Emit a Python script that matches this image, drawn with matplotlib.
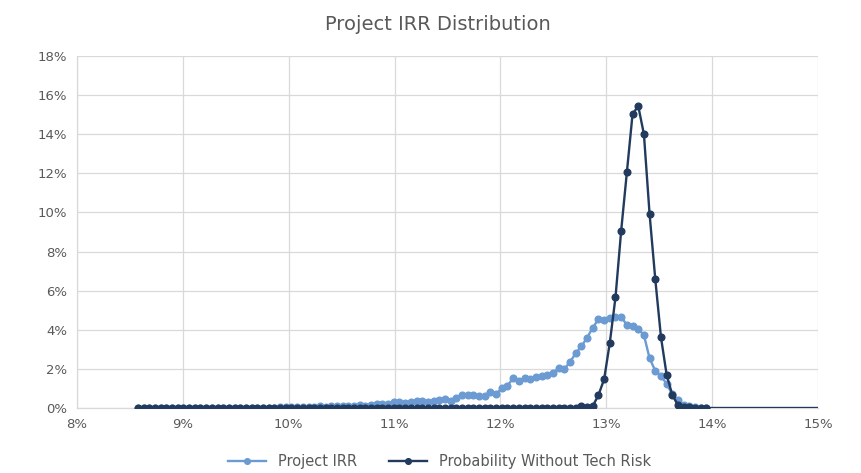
import numpy as np
import matplotlib
matplotlib.use("Agg")
import matplotlib.pyplot as plt
from matplotlib.ticker import FuncFormatter

# bins of the IRR histogram (percent): first bin centre, bin width, number of bins
bin_start = 8.576
bin_width = 0.0537
n_bins = 101
irr = bin_start + bin_width * np.arange(n_bins)

# probability per bin (percent)
project_irr = [
    0.00, 0.00, 0.00, 0.00, 0.00, 0.00, 0.00, 0.00, 0.00, 0.00,
    0.01, 0.01, 0.01, 0.01, 0.01, 0.01, 0.01, 0.01, 0.01, 0.01,
    0.02, 0.02, 0.02, 0.02, 0.02, 0.03, 0.04, 0.03, 0.05, 0.04,
    0.05, 0.06, 0.08, 0.07, 0.10, 0.08, 0.10, 0.12, 0.10, 0.14,
    0.12, 0.15, 0.18, 0.20, 0.22, 0.29, 0.29, 0.28, 0.32, 0.35,
    0.37, 0.30, 0.38, 0.40, 0.44, 0.35, 0.50, 0.66, 0.66, 0.66,
    0.60, 0.60, 0.80, 0.72, 1.00, 1.15, 1.52, 1.38, 1.52, 1.50,
    1.60, 1.62, 1.68, 1.80, 2.03, 2.00, 2.35, 2.80, 3.15, 3.60,
    4.10, 4.55, 4.50, 4.59, 4.67, 4.67, 4.24, 4.21, 4.04, 3.73,
    2.54, 1.90, 1.64, 1.23, 0.70, 0.40, 0.15, 0.08, 0.03, 0.01,
    0.00,
]
no_tech_risk = [
    0.00, 0.00, 0.00, 0.00, 0.00, 0.00, 0.00, 0.00, 0.00, 0.00,
    0.00, 0.00, 0.00, 0.00, 0.00, 0.00, 0.00, 0.00, 0.00, 0.00,
    0.00, 0.00, 0.00, 0.00, 0.00, 0.00, 0.00, 0.00, 0.00, 0.00,
    0.00, 0.00, 0.00, 0.00, 0.00, 0.00, 0.00, 0.00, 0.00, 0.00,
    0.00, 0.00, 0.00, 0.00, 0.00, 0.00, 0.00, 0.00, 0.00, 0.00,
    0.00, 0.00, 0.00, 0.00, 0.00, 0.00, 0.00, 0.00, 0.00, 0.00,
    0.00, 0.00, 0.00, 0.00, 0.00, 0.00, 0.00, 0.00, 0.00, 0.00,
    0.00, 0.00, 0.00, 0.00, 0.00, 0.00, 0.00, 0.01, 0.10, 0.04,
    0.10, 0.66, 1.47, 3.34, 5.66, 9.07, 12.05, 15.03, 15.44, 14.00,
    9.90, 6.58, 3.62, 1.69, 0.66, 0.15, 0.07, 0.03, 0.00, 0.00,
    0.00,
]

x_ticks = [8, 9, 10, 11, 12, 13, 14, 15]
y_ticks = [0, 2, 4, 6, 8, 10, 12, 14, 16, 18]

light = "#6b9bd2"
dark = "#223a5e"
grey = "#595959"

plt.rcParams['font.family'] = ['DejaVu Sans']

fig = plt.figure(figsize=(8.62, 4.73), dpi=100)
ax = fig.add_axes([0.0893, 0.1374, 0.8597, 0.7442])

ax.plot(irr, project_irr, color=light, lw=1.7, marker='o', ms=4.8,
        label='Project IRR', zorder=3)
ax.plot(irr, no_tech_risk, color=dark, lw=1.7, marker='o', ms=4.8,
        label='Probability Without Tech Risk', zorder=4)
# the series line carries on flat to the end of the axis
ax.plot([irr[-1], x_ticks[-1]], [no_tech_risk[-1], no_tech_risk[-1]],
        color=dark, lw=1.7, zorder=4)

ax.set_xlim(x_ticks[0], x_ticks[-1])
ax.set_ylim(y_ticks[0], y_ticks[-1])
ax.set_xticks(x_ticks)
ax.set_yticks(y_ticks)
pct = FuncFormatter(lambda v, p: f"{v:.0f}%")
ax.xaxis.set_major_formatter(pct)
ax.yaxis.set_major_formatter(pct)
ax.tick_params(axis='both', length=0, labelsize=9.5, colors=grey, pad=7)

ax.grid(True, color="#d9d9d9", lw=0.9)
ax.set_axisbelow(True)
for side in ['top', 'right']:
    ax.spines[side].set_visible(False)
for side in ['left', 'bottom']:
    ax.spines[side].set_color("#d9d9d9")
    ax.spines[side].set_linewidth(0.9)

fig.suptitle('Project IRR Distribution', x=0.508, y=0.968, fontsize=14,
             color=grey)

leg = fig.legend(loc='lower center', bbox_to_anchor=(0.51, -0.02), ncol=2,
                 frameon=False, fontsize=10.5, handlelength=2.6,
                 columnspacing=2.2, markerscale=0.85)
for t in leg.get_texts():
    t.set_color(grey)

fig.savefig('out.png', dpi=100)
